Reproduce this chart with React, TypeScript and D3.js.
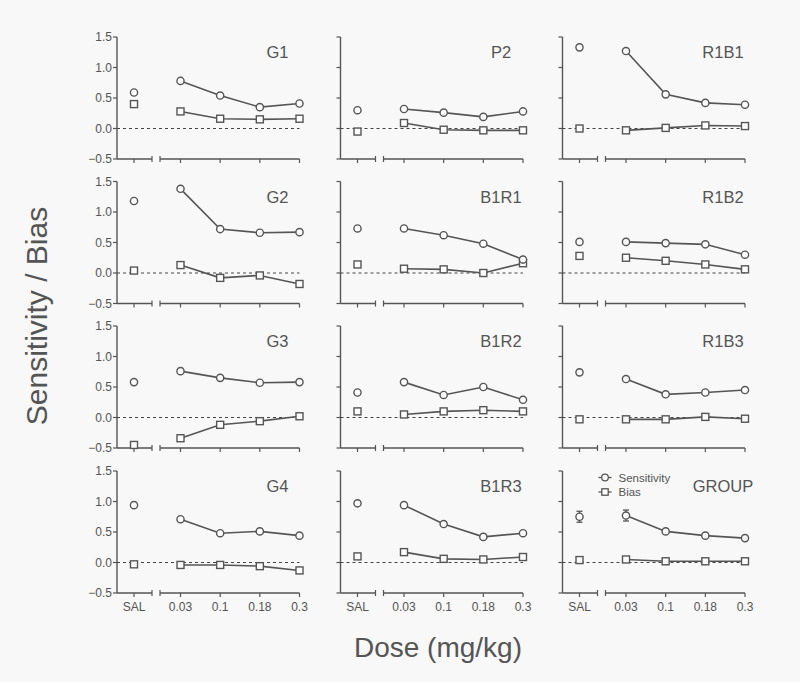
import React from "react";
import * as d3 from "d3";

const doseLabels = ["SAL", "0.03", "0.1", "0.18", "0.3"];
const yTicks = [-0.5, 0.0, 0.5, 1.0, 1.5];
const panelNames = ["G1", "P2", "R1B1", "G2", "B1R1", "R1B2", "G3", "B1R2", "R1B3", "G4", "B1R3", "GROUP"];

const sensitivity: number[][] = [
  [0.59, 0.78, 0.54, 0.35, 0.41],
  [0.30, 0.32, 0.26, 0.19, 0.28],
  [1.33, 1.27, 0.56, 0.42, 0.39],
  [1.18, 1.38, 0.72, 0.66, 0.67],
  [0.73, 0.73, 0.62, 0.48, 0.22],
  [0.51, 0.51, 0.49, 0.47, 0.30],
  [0.58, 0.76, 0.65, 0.57, 0.58],
  [0.41, 0.58, 0.37, 0.50, 0.29],
  [0.74, 0.63, 0.38, 0.41, 0.45],
  [0.94, 0.71, 0.48, 0.51, 0.44],
  [0.97, 0.94, 0.63, 0.42, 0.48],
  [0.75, 0.77, 0.51, 0.44, 0.40],
];

const bias: number[][] = [
  [0.40, 0.28, 0.16, 0.15, 0.16],
  [-0.05, 0.09, -0.02, -0.03, -0.03],
  [0.00, -0.03, 0.01, 0.05, 0.04],
  [0.04, 0.13, -0.08, -0.04, -0.18],
  [0.14, 0.07, 0.06, 0.00, 0.16],
  [0.28, 0.25, 0.20, 0.14, 0.06],
  [-0.45, -0.34, -0.12, -0.06, 0.02],
  [0.10, 0.05, 0.10, 0.12, 0.10],
  [-0.03, -0.03, -0.03, 0.01, -0.02],
  [-0.03, -0.04, -0.04, -0.06, -0.13],
  [0.10, 0.17, 0.06, 0.05, 0.09],
  [0.04, 0.05, 0.02, 0.02, 0.02],
];

const groupSensErr = [0.09, 0.09, 0.03, 0.03, 0.03];
const groupBiasErr = [0.02, 0.02, 0.02, 0.02, 0.02];

const colX = [117, 340.5, 562.5];
const rowTop = [37, 181.5, 326, 471];
const panelH = 122;
const FONT = "Liberation Sans, Arial, Helvetica, sans-serif";
const INK = "#555555";
const TXT = "#555555";
const BG = "#f8f8f8";

function Panel({ idx }: { idx: number }) {
  const col = idx % 3;
  const row = Math.floor(idx / 3);
  const x0 = colX[col];
  const top = rowTop[row];
  const y = d3.scaleLinear().domain([-0.5, 1.5]).range([top + panelH, top]);
  const xDose = d3.scaleLinear().domain([1, 4]).range([x0 + 63.5, x0 + 182.5]);
  const xPos = (i: number) => (i === 0 ? x0 + 17 : xDose(i));
  const bottom = y(-0.5);
  const s = sensitivity[idx];
  const b = bias[idx];
  const line = d3
    .line<number>()
    .x((_, i) => xPos(i + 1))
    .y((d) => y(d));
  const isGroup = panelNames[idx] === "GROUP";
  const r = 3.6;
  const sq = 7;
  return (
    <g>
      <line x1={x0} x2={x0} y1={y(1.5)} y2={bottom} stroke={INK} strokeWidth={1.4} />
      {yTicks.map((t) => (
        <line key={t} x1={x0 - 4} x2={x0} y1={y(t)} y2={y(t)} stroke={INK} strokeWidth={1.2} />
      ))}
      {col === 0 &&
        yTicks.map((t) => (
          <text
            key={"l" + t}
            x={x0 - 5}
            y={y(t)}
            dy="0.36em"
            textAnchor="end"
            fontFamily={FONT}
            fontSize={12}
            fill={TXT}
          >
            {d3.format(".1f")(t)}
          </text>
        ))}
      <line x1={x0} x2={x0 + 35} y1={bottom} y2={bottom} stroke={INK} strokeWidth={1.4} />
      <line x1={x0 + 35} x2={x0 + 35} y1={bottom - 3} y2={bottom + 3} stroke={INK} strokeWidth={1.2} />
      <line x1={x0 + 43} x2={xPos(4)} y1={bottom} y2={bottom} stroke={INK} strokeWidth={1.4} />
      <line x1={x0 + 43} x2={x0 + 43} y1={bottom - 3} y2={bottom + 3} stroke={INK} strokeWidth={1.2} />
      {doseLabels.map((lab, i) => (
        <line key={lab} x1={xPos(i)} x2={xPos(i)} y1={bottom} y2={bottom + 4} stroke={INK} strokeWidth={1.2} />
      ))}
      {row === 3 &&
        doseLabels.map((lab, i) => (
          <text
            key={"t" + lab}
            x={xPos(i)}
            y={bottom + 17.5}
            textAnchor="middle"
            fontFamily={FONT}
            fontSize={12}
            fill={TXT}
          >
            {lab}
          </text>
        ))}
      <line
        x1={x0}
        x2={xPos(4)}
        y1={y(0)}
        y2={y(0)}
        stroke="#444"
        strokeWidth={1.2}
        strokeDasharray="3,3"
      />
      <text
        x={x0 + 160.5}
        y={top + 21}
        textAnchor="middle"
        fontFamily={FONT}
        fontSize={16.5}
        fill={TXT}
      >
        {panelNames[idx]}
      </text>
      <path d={line(s.slice(1)) || ""} fill="none" stroke={INK} strokeWidth={1.6} />
      <path d={line(b.slice(1)) || ""} fill="none" stroke={INK} strokeWidth={1.6} />
      {isGroup &&
        s.map((v, i) => (
          <g key={"e" + i}>
            <line x1={xPos(i)} x2={xPos(i)} y1={y(v - groupSensErr[i])} y2={y(v + groupSensErr[i])} stroke={INK} strokeWidth={1.3} />
            <line x1={xPos(i) - 3} x2={xPos(i) + 3} y1={y(v - groupSensErr[i])} y2={y(v - groupSensErr[i])} stroke={INK} strokeWidth={1.3} />
            <line x1={xPos(i) - 3} x2={xPos(i) + 3} y1={y(v + groupSensErr[i])} y2={y(v + groupSensErr[i])} stroke={INK} strokeWidth={1.3} />
          </g>
        ))}
      {isGroup &&
        b.map((v, i) => (
          <line key={"eb" + i} x1={xPos(i)} x2={xPos(i)} y1={y(v - groupBiasErr[i])} y2={y(v + groupBiasErr[i])} stroke={INK} strokeWidth={1.3} />
        ))}
      {b.map((v, i) => (
        <rect
          key={"b" + i}
          x={xPos(i) - sq / 2}
          y={y(v) - sq / 2}
          width={sq}
          height={sq}
          fill="#fff"
          stroke={INK}
          strokeWidth={1.4}
        />
      ))}
      {s.map((v, i) => (
        <circle key={"s" + i} cx={xPos(i)} cy={y(v)} r={r} fill="#fff" stroke={INK} strokeWidth={1.4} />
      ))}
      {isGroup && (
        <g>
          <line x1={x0 + 36} x2={x0 + 49} y1={top + 6.5} y2={top + 6.5} stroke={INK} strokeWidth={1.3} />
          <circle cx={x0 + 42.5} cy={top + 6.5} r={3.3} fill="#fff" stroke={INK} strokeWidth={1.3} />
          <text x={x0 + 56} y={top + 10.5} fontFamily={FONT} fontSize={11.5} fill={TXT}>
            Sensitivity
          </text>
          <line x1={x0 + 36} x2={x0 + 49} y1={top + 21} y2={top + 21} stroke={INK} strokeWidth={1.3} />
          <rect x={x0 + 39.3} y={top + 17.8} width={6.4} height={6.4} fill="#fff" stroke={INK} strokeWidth={1.3} />
          <text x={x0 + 56} y={top + 25} fontFamily={FONT} fontSize={11.5} fill={TXT}>
            Bias
          </text>
        </g>
      )}
    </g>
  );
}

export default function App() {
  return (
    <svg
      width={800}
      height={682}
      style={{ position: "absolute", left: 0, top: 0, display: "block" }}
    >
      <rect x={0} y={0} width={800} height={682} fill={BG} />
      {panelNames.map((_, i) => (
        <Panel key={i} idx={i} />
      ))}
      <text
        transform="translate(47,316) rotate(-90)"
        textAnchor="middle"
        fontFamily={FONT}
        fontSize={30}
        fill={TXT}
      >
        Sensitivity / Bias
      </text>
      <text x={438} y={657} textAnchor="middle" fontFamily={FONT} fontSize={28} fill={TXT}>
        Dose (mg/kg)
      </text>
    </svg>
  );
}
